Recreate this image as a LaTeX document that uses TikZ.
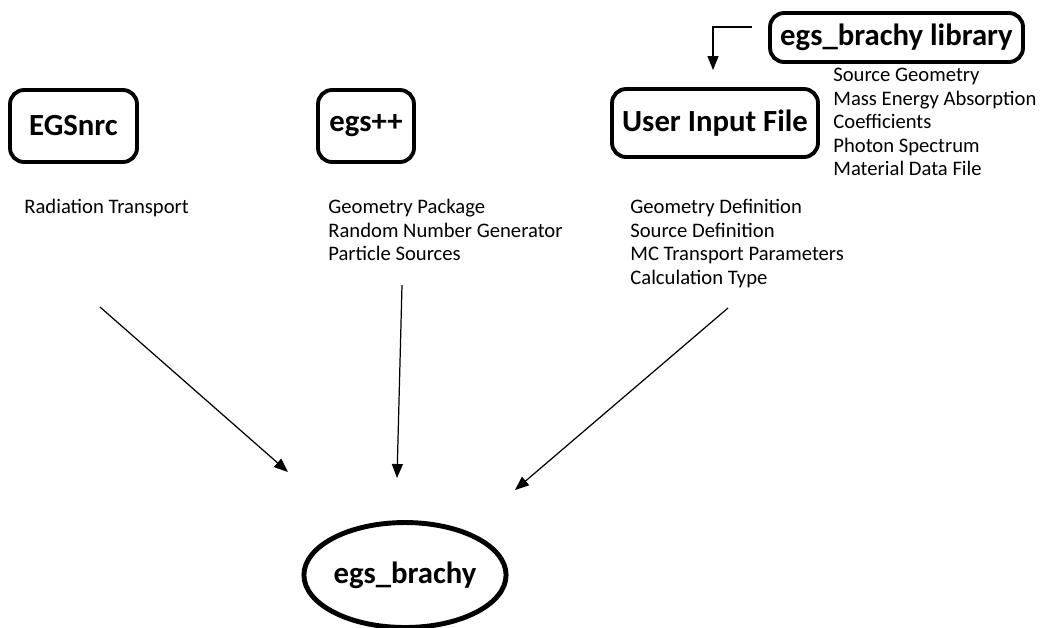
\documentclass[tikz,border=0pt]{standalone}
\usepackage{fontspec}
\setmainfont{Carlito}
\usepackage{tikz}
\usetikzlibrary{shapes.geometric, arrows.meta}
\tikzset{
    prog/.style={draw, line width=2.2pt, rounded corners=8pt, font=\fontsize{17.5}{21}\selectfont\bfseries, minimum height=1.44cm},
    notes/.style={anchor=north west, inner sep=0pt, align=left, font=\fontsize{11.75}{13.4}\selectfont},
    feed/.style={-{Triangle[length=2.8mm, width=2.2mm]}, line width=0.7pt}
}

\begin{document}
\begin{tikzpicture}[x=0.02cm, y=-0.02cm]
\useasboundingbox (0,0) rectangle (1043,627);

%boxes
\node[prog, minimum width=2.54cm] (egsnrc) at (73.5,126) {EGSnrc};
\node[prog, minimum width=1.92cm] (egspp) at (366,126) {egs++};
\node[prog, minimum width=4.12cm, minimum height=1.36cm] (user) at (715,123) {User Input File};
\node[prog, minimum width=5.06cm, minimum height=0.98cm] (lib) at (896.5,37.5) {egs\_brachy library};

%result
\node[draw, ellipse, line width=2.8pt, inner sep=0pt, minimum width=3.7cm, minimum height=2.1cm,
      font=\fontsize{17.5}{21}\selectfont\bfseries] (brachy) at (405,575) {egs\_brachy};

%notes
\node[notes] (radnotes) at (24,199) {Radiation Transport};
\node[notes] (ppnotes) at (328,199) {Geometry Package\\Random Number Generator\\Particle Sources};
\node[notes] (usernotes) at (630,199) {Geometry Definition\\Source Definition\\MC Transport Parameters\\Calculation Type};
\node[notes] (libnotes) at (833,68) {Source Geometry\\Mass Energy Absorption\\Coefficients\\Photon Spectrum\\Material Data File};

%arrows
\coordinate (libtail) at (752,27);
\coordinate (libhead) at (713,70);
\draw[feed] (libtail) -| (libhead);

\coordinate (a0) at (100,307);
\coordinate (b0) at (288,472);
\draw[feed] (a0) -- (b0);

\coordinate (a1) at (402,285);
\coordinate (b1) at (397,478);
\draw[feed] (a1) -- (b1);

\coordinate (a2) at (728,308);
\coordinate (b2) at (515,490);
\draw[feed] (a2) -- (b2);

\end{tikzpicture}
\end{document}
